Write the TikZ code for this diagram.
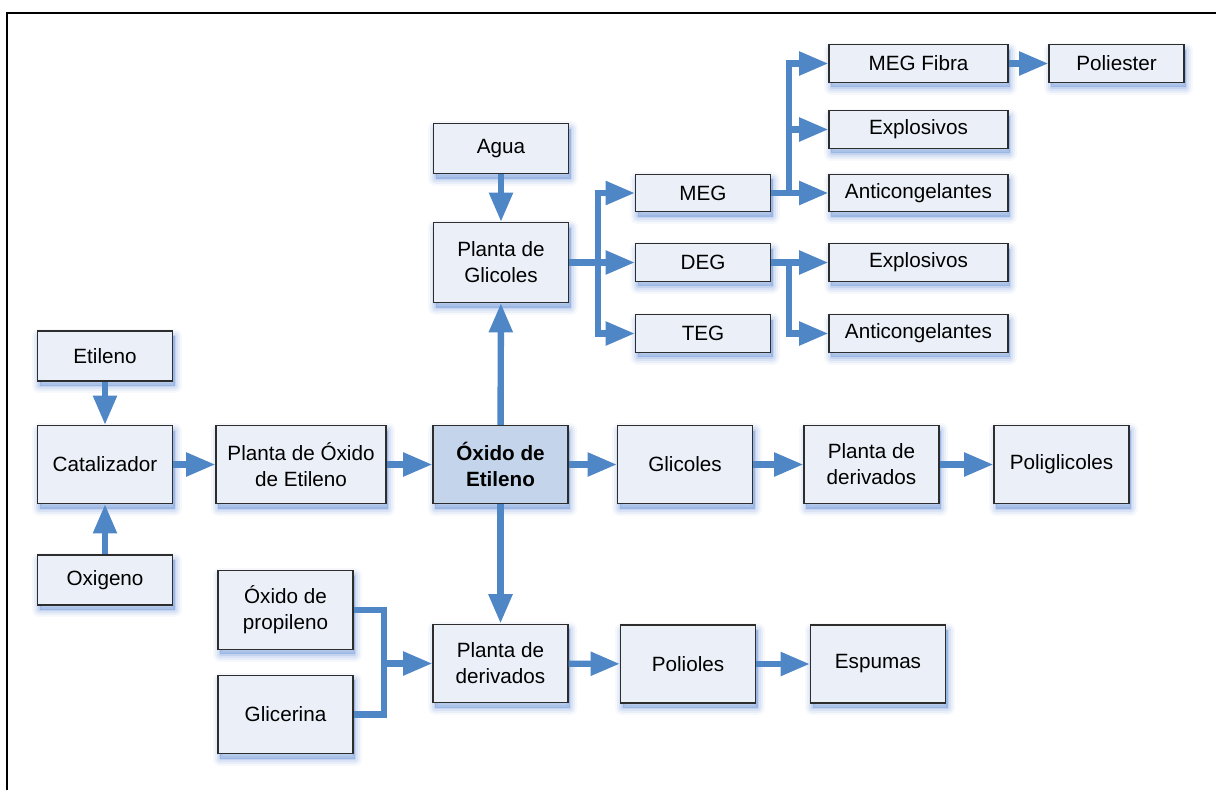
\documentclass[tikz,border=0pt]{standalone}
\usepackage{fontspec}
\setmainfont{Liberation Sans}
\usetikzlibrary{arrows.meta}

\definecolor{azul}{RGB}{79,134,198}
\definecolor{relleno}{RGB}{235,240,248}
\definecolor{rellenoc}{RGB}{196,212,234}
\definecolor{borde}{RGB}{45,45,45}
\definecolor{sombra}{RGB}{70,120,205}

\begin{document}
\begin{tikzpicture}[x=0.75pt,y=0.75pt,yscale=-1,xscale=1,
	capa/.style 2 args={preaction={draw=sombra, fill=sombra, opacity=#2, line width=#1, line join=round,
		transform canvas={shift={(2,-5)}}}},
	caja/.style={draw=borde, line width=0.9pt, fill=relleno, align=center, inner sep=1pt,
		minimum width=101.25pt, minimum height=58.5pt,
		font=\fontsize{15.5}{19.5}\selectfont,
		capa={11pt}{0.05}, capa={8pt}{0.07}, capa={5pt}{0.1}, capa={2pt}{0.14}},
	baja/.style={minimum height=37.5pt},
	fina/.style={minimum height=28pt},
	ancha/.style={minimum width=134.25pt},
	linea/.style={azul, line width=4.8pt},
	flecha/.style={linea, -{Triangle[length=22pt,width=17pt]}}]
	\useasboundingbox (0,0) rectangle (1216,790);
	
	%Frame
	\draw [line width=1.6pt] (7,790) -- (7,13) -- (1216,13) ;
	
	% Left column
	\node [caja, baja] (etileno) at (105,356) {Etileno};
	\node [caja] (catalizador) at (105,464.5) {Catalizador};
	\node [caja, baja] (oxigeno) at (105,580) {Oxigeno};
	
	% Middle row
	\node [caja, minimum width=127.5pt] (plantaOE) at (301,464.5) {Planta de Óxido\\de Etileno};
	\node [caja, fill=rellenoc, font=\fontsize{15.5}{19.5}\selectfont\bfseries] (oxido) at (500.5,464.5) {Óxido de\\Etileno};
	\node [caja] (glicoles) at (685,464.5) {Glicoles};
	\node [caja] (derivados) at (871.5,464.5) {Planta de\\derivados};
	\node [caja] (poliglicoles) at (1061.5,464.5) {Poliglicoles};
	
	% Upper branch
	\node [caja, baja] (agua) at (501,148.5) {Agua};
	\node [caja, minimum height=60pt] (plantaG) at (501,262.5) {Planta de\\Glicoles};
	\node [caja, fina] (meg) at (703,193) {MEG};
	\node [caja, fina] (deg) at (703,262.5) {DEG};
	\node [caja, fina] (teg) at (703,333.5) {TEG};
	\node [caja, fina, ancha] (fibra) at (918.5,63.5) {MEG Fibra};
	\node [caja, fina] (poliester) at (1116.5,63.5) {Poliester};
	\node [caja, fina, ancha] (expl1) at (918.5,129.5) {Explosivos};
	\node [caja, fina, ancha] (anti1) at (918.5,193) {Anticongelantes};
	\node [caja, fina, ancha] (expl2) at (918.5,262.5) {Explosivos};
	\node [caja, fina, ancha] (anti2) at (918.5,333.5) {Anticongelantes};
	
	% Lower branch
	\node [caja, minimum height=59pt] (propileno) at (285.5,610) {Óxido de\\propileno};
	\node [caja, minimum height=59pt] (glicerina) at (285.5,714.5) {Glicerina};
	\node [caja, minimum height=59pt] (derivB) at (500.5,663.5) {Planta de\\derivados};
	\node [caja] (polioles) at (688,664) {Polioles};
	\node [caja] (espumas) at (878,664) {Espumas};
	
	% Buses
	\coordinate (busG) at (598,0);
	\coordinate (busM) at (789,0);
	\coordinate (busP) at (384,0);
	
	% Arrows
	\draw [flecha] (etileno) -- (catalizador);
	\draw [flecha] (oxigeno) -- (catalizador);
	\draw [flecha] (catalizador) -- (plantaOE);
	\draw [flecha] (plantaOE) -- (oxido);
	\draw [flecha] (oxido) -- (glicoles);
	\draw [flecha] (glicoles) -- (derivados);
	\draw [flecha] (derivados) -- (poliglicoles);
	\draw [flecha] (agua) -- (plantaG);
	\draw [flecha] (oxido) -- (plantaG);
	\draw [flecha] (oxido) -- (derivB);
	\draw [flecha] (derivB) -- (polioles);
	\draw [flecha] (polioles) -- (espumas);
	\draw [flecha] (fibra) -- (poliester);
	
	\draw [flecha] (plantaG.east) -- (deg.west);
	\draw [flecha] (plantaG.east -| busG) |- (meg.west);
	\draw [flecha] (plantaG.east -| busG) |- (teg.west);
	
	\draw [flecha] (meg.east) -- (anti1.west);
	\draw [flecha] (meg.east -| busM) |- (fibra.west);
	\draw [flecha] (meg.east -| busM) |- (expl1.west);
	
	\draw [flecha] (deg.east) -- (expl2.west);
	\draw [flecha] (deg.east -| busM) |- (anti2.west);
	
	\draw [linea] (propileno.east) -| (glicerina.east -| busP) -- (glicerina.east);
	\draw [flecha] (derivB.west -| busP) -- (derivB.west);
	
\end{tikzpicture}
\end{document}
